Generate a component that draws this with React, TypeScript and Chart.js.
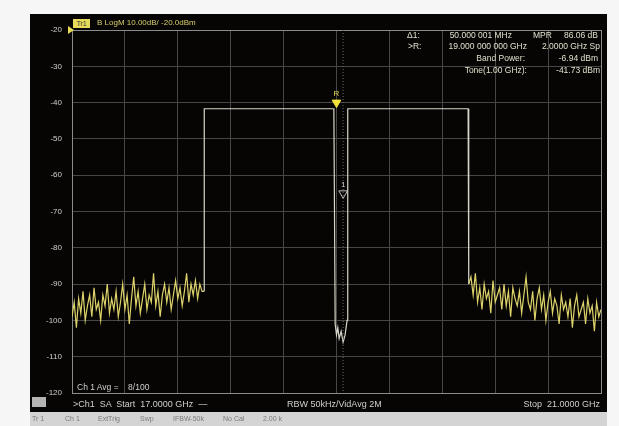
import React, { useEffect, useRef } from "react";
import { Chart, registerables } from "chart.js";
Chart.register(...registerables);

// ---- axis / sweep settings ----
const START_GHZ = 17;
const STOP_GHZ = 21;
const FREQ_DIV_GHZ = 0.4;
const REF_LEVEL = -20;
const BOTTOM_LEVEL = -120;
const DB_PER_DIV = 10;

// ---- trace data (dBm) ----
const leftNoiseStartGHz = 17.0;
const rightNoiseStartGHz = 20.0;
const noiseStepGHz = 1 / 60;

const leftNoiseLevels = [
  -99, -95, -102, -94, -98, -92, -100, -96, -93, -99,
  -91, -97, -95, -100, -93, -96, -90, -98, -94, -97,
  -92, -99, -95, -90, -97, -93, -101, -94, -88, -96,
  -92, -98, -94, -90, -97, -93, -95, -87, -96, -92,
  -99, -93, -90, -95, -91, -97, -93, -89, -94, -91,
  -96, -92, -87, -95, -90, -93, -89, -94, -90, -92,
];

const bandFreqs = [18.0, 18.0, 18.98, 18.99, 19.0, 19.01, 19.02, 19.035, 19.05, 19.065, 19.08, 19.085, 19.995, 20.0];
const bandLevels = [-92, -41.7, -41.7, -101, -104, -102, -105, -103, -106, -104, -100, -41.7, -41.7, -90];

const rightNoiseLevels = [
  -88, -93, -87, -95, -91, -97, -90, -94, -92, -98,
  -89, -95, -93, -91, -97, -90, -96, -92, -99, -91,
  -94, -96, -92, -98, -93, -88, -95, -97, -92, -100,
  -94, -91, -97, -93, -100, -95, -92, -98, -94, -96,
  -101, -93, -97, -95, -99, -94, -102, -96, -93, -99,
  -97, -95, -101, -94, -98, -96, -103, -95, -99, -97,
];

// ---- markers ----
const markerRFreq = [19.0];
const markerRLevel = [-40];
const marker1Freq = [19.05];
const marker1Level = [-65];

const FONT = '"Liberation Sans", Arial, sans-serif';
const YELLOW = "#e6dc5a";
const GRID = "#474747";
const FRAME = "#8c8c8c";

function buildTrace() {
  const pts: { x: number; y: number }[] = [];
  leftNoiseLevels.forEach((v, i) => pts.push({ x: leftNoiseStartGHz + i * noiseStepGHz, y: v }));
  bandFreqs.forEach((f, i) => pts.push({ x: f, y: bandLevels[i] }));
  rightNoiseLevels.forEach((v, i) => pts.push({ x: rightNoiseStartGHz + (i + 1) * noiseStepGHz, y: v }));
  return pts;
}

const markerLabels = {
  id: "markerLabels",
  afterDatasetsDraw(chart: any) {
    const { ctx, scales, chartArea } = chart;
    const x = scales.x, y = scales.y;
    ctx.save();
    ctx.font = `8px ${FONT}`;
    ctx.textAlign = "center";
    ctx.textBaseline = "bottom";
    ctx.fillStyle = YELLOW;
    ctx.fillText("R", x.getPixelForValue(markerRFreq[0]), y.getPixelForValue(markerRLevel[0]) - 5);
    ctx.fillStyle = "#cfcfcf";
    ctx.fillText("1", x.getPixelForValue(marker1Freq[0]), y.getPixelForValue(marker1Level[0]) - 5);
    const ry = y.getPixelForValue(REF_LEVEL);
    ctx.fillStyle = YELLOW;
    ctx.beginPath();
    ctx.moveTo(chartArea.left - 4, ry - 4);
    ctx.lineTo(chartArea.left + 2, ry);
    ctx.lineTo(chartArea.left - 4, ry + 4);
    ctx.closePath();
    ctx.fill();
    ctx.restore();
  },
};

const txt = (style: React.CSSProperties, s: string) => (
  <div style={{ position: "absolute", whiteSpace: "pre", lineHeight: "10px", ...style }}>{s}</div>
);

export default function App() {
  const ref = useRef<HTMLCanvasElement>(null);
  useEffect(() => {
    document.body.style.margin = "0";
    const canvas = ref.current!;
    const chart = new Chart(canvas, {
      type: "line",
      data: {
        datasets: [
          {
            label: "Marker line",
            data: [
              { x: marker1Freq[0], y: REF_LEVEL },
              { x: marker1Freq[0], y: BOTTOM_LEVEL },
            ],
            borderColor: "#6a6a6a",
            borderWidth: 1,
            borderDash: [1, 2],
            pointRadius: 0,
          },
          {
            label: "Tr1",
            data: buildTrace(),
            borderColor: "#e2d86a",
            borderWidth: 1.2,
            pointRadius: 0,
            tension: 0,
            segment: {
              borderColor: (c: any) =>
                c.p0.parsed.x < 18 || c.p1.parsed.x > 20 ? "#ddd36a" : "#d6d6c8",
            },
          } as any,
          {
            label: "R",
            data: [{ x: markerRFreq[0], y: markerRLevel[0] }],
            showLine: false,
            pointStyle: "triangle",
            rotation: 180,
            pointRadius: 5,
            backgroundColor: "#f2e23a",
            borderColor: "#f2e23a",
          } as any,
          {
            label: "1",
            data: [{ x: marker1Freq[0], y: marker1Level[0] }],
            showLine: false,
            pointStyle: "triangle",
            rotation: 180,
            pointRadius: 5,
            backgroundColor: "rgba(0,0,0,0)",
            borderColor: "#bdbdbd",
            borderWidth: 1,
          } as any,
        ],
      },
      options: {
        responsive: false,
        animation: false,
        layout: { padding: { top: 16, bottom: 19, right: 4, left: 0 } },
        plugins: { legend: { display: false }, tooltip: { enabled: false } },
        scales: {
          x: {
            type: "linear",
            min: START_GHZ,
            max: STOP_GHZ,
            ticks: { display: false, stepSize: FREQ_DIV_GHZ },
            grid: {
              drawTicks: false,
              color: (c: any) => (c.tick && Math.abs(c.tick.value - STOP_GHZ) < 1e-6 ? FRAME : GRID),
            },
            border: { color: FRAME },
            afterFit: (s: any) => { s.height = 0; },
          },
          y: {
            min: BOTTOM_LEVEL,
            max: REF_LEVEL,
            ticks: {
              stepSize: DB_PER_DIV,
              color: "#cfcfcf",
              padding: 10,
              font: { size: 8, family: FONT },
            },
            grid: {
              drawTicks: false,
              color: (c: any) => (c.tick && c.tick.value === REF_LEVEL ? FRAME : GRID),
            },
            border: { color: FRAME },
            afterFit: (s: any) => { s.width = 42; },
          },
        },
      },
      plugins: [markerLabels],
    } as any);
    return () => chart.destroy();
  }, []);

  const mk = { color: "#e2dfcc", fontSize: 8.5, fontFamily: FONT };
  const sb = { color: "#cfcfcf", fontSize: 9, fontFamily: FONT };
  const gb = { color: "#7a7a7a", fontSize: 7, fontFamily: FONT, top: 414 };

  return (
    <div style={{ position: "relative", width: 619, height: 426, background: "#f6f6f6", overflow: "hidden", fontFamily: FONT }}>
      <div style={{ position: "absolute", left: 30, top: 14, width: 577, height: 398, background: "#060504" }} />
      <div style={{ position: "absolute", left: 30, top: 412, width: 577, height: 14, background: "#d4d4d4" }} />
      <canvas ref={ref} width={577} height={398} style={{ position: "absolute", left: 30, top: 14, width: 577, height: 398 }} />

      {/* trace header */}
      <div style={{ position: "absolute", left: 73, top: 19, width: 17, height: 9, background: YELLOW, color: "#333", fontSize: 7, lineHeight: "9px", textAlign: "center" }}>Tr1</div>
      {txt({ left: 97, top: 18, color: "#d8cf6a", fontSize: 8 }, "B LogM 10.00dB/ -20.0dBm")}

      {/* marker readout */}
      {txt({ ...mk, left: 407, top: 30 }, "Δ1:")}
      {txt({ ...mk, right: 619 - 512, top: 30 }, "50.000 001 MHz")}
      {txt({ ...mk, left: 533, top: 30 }, "MPR")}
      {txt({ ...mk, right: 619 - 598, top: 30 }, "86.06 dB")}
      {txt({ ...mk, left: 408, top: 41 }, ">R:")}
      {txt({ ...mk, right: 619 - 527, top: 41 }, "19.000 000 000 GHz")}
      {txt({ ...mk, right: 619 - 600, top: 41 }, "2.0000 GHz Sp")}
      {txt({ ...mk, right: 619 - 525, top: 53 }, "Band Power:")}
      {txt({ ...mk, right: 619 - 598, top: 53 }, "-6.94 dBm")}
      {txt({ ...mk, right: 619 - 527, top: 65 }, "Tone(1.00 GHz):")}
      {txt({ ...mk, right: 619 - 600, top: 65 }, "-41.73 dBm")}

      {/* average counter */}
      {txt({ ...sb, fontSize: 8.5, left: 77, top: 382 }, "Ch 1 Avg =    8/100")}

      {/* status strip */}
      <div style={{ position: "absolute", left: 32, top: 397, width: 14, height: 10, background: "#b4b4b4" }} />
      {txt({ ...sb, left: 73, top: 399 }, ">Ch1  SA  Start  17.0000 GHz  —")}
      {txt({ ...sb, left: 287, top: 399 }, "RBW 50kHz/VidAvg 2M")}
      {txt({ ...sb, right: 619 - 600, top: 399 }, "Stop  21.0000 GHz")}

      {/* bottom bar */}
      {txt({ ...gb, left: 32 }, "Tr 1")}
      {txt({ ...gb, left: 65 }, "Ch 1")}
      {txt({ ...gb, left: 98 }, "ExtTrig")}
      {txt({ ...gb, left: 140 }, "Swp")}
      {txt({ ...gb, left: 173 }, "IFBW-50k")}
      {txt({ ...gb, left: 223 }, "No Cal")}
      {txt({ ...gb, left: 263 }, "2.00 k")}
    </div>
  );
}
